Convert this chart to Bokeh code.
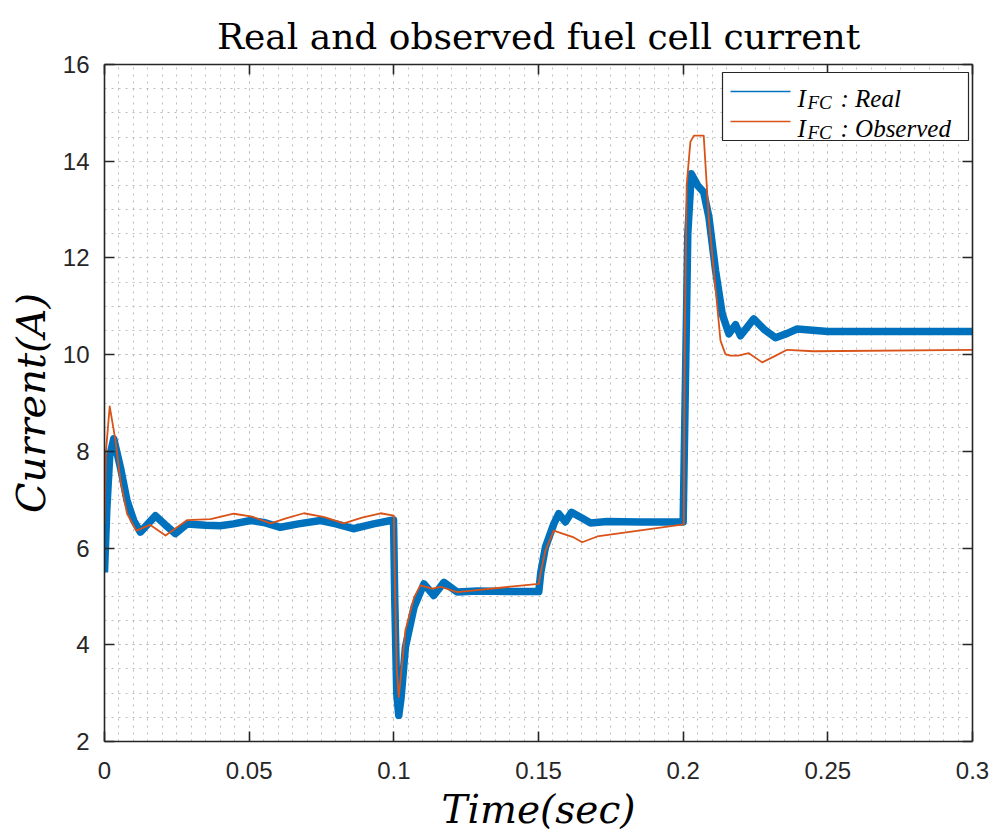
from bokeh.plotting import figure
from bokeh.models import (FixedTicker, LinearAxis, CustomJSTickFormatter, Range1d,
                          BoxAnnotation, Arrow, Label)
from bokeh.embed import file_html
from bokeh.resources import INLINE

# ---------------- data ----------------
t_real = [0, 0.0008, 0.0018, 0.0032, 0.0055, 0.0078, 0.0101, 0.0124, 0.0150, 0.0176,
          0.0210, 0.0245, 0.0286, 0.0350, 0.0400, 0.0446, 0.0505, 0.0550, 0.0608, 0.0670,
          0.0747, 0.0800, 0.0860, 0.0930, 0.0999,
          0.1003, 0.1010, 0.1017, 0.1025, 0.1040, 0.1070, 0.1104, 0.1138, 0.1173, 0.1219,
          0.1288, 0.1400, 0.1501,
          0.1508, 0.1524, 0.1553, 0.1570, 0.1593, 0.1614, 0.1650, 0.1680, 0.1737, 0.1850, 0.2000,
          0.2008, 0.2016, 0.2028, 0.2050, 0.2071, 0.2089, 0.2112, 0.2135, 0.2158, 0.2181,
          0.2198, 0.2244, 0.2280, 0.2319, 0.2360, 0.2394, 0.2500, 0.3000]
i_real = [5.5, 6.8, 7.9, 8.26, 7.67, 6.98, 6.57, 6.33, 6.5, 6.67,
          6.48, 6.3, 6.5, 6.47, 6.46, 6.5, 6.57, 6.53, 6.43, 6.5,
          6.57, 6.5, 6.40, 6.5, 6.58,
          5.0, 3.0, 2.54, 2.9, 3.95, 4.78, 5.26, 5.02, 5.29, 5.09,
          5.11, 5.1, 5.1,
          5.5, 6.02, 6.5, 6.71, 6.54, 6.74, 6.62, 6.52, 6.55, 6.54, 6.54,
          9.5, 12.5, 13.74, 13.5, 13.36, 12.84, 11.74, 10.84, 10.43, 10.62,
          10.39, 10.74, 10.52, 10.35, 10.44, 10.53, 10.48, 10.48]

t_obs = [0, 0.0005, 0.0018, 0.0038, 0.0055, 0.0078, 0.0110, 0.0157, 0.0211, 0.0286,
         0.0367, 0.0410, 0.0447, 0.0510, 0.0574, 0.0630, 0.0689, 0.0760, 0.0827, 0.0890,
         0.0954, 0.1000,
         0.1003, 0.1010, 0.1017, 0.1025, 0.1040, 0.1070, 0.1092, 0.1132, 0.1161, 0.1219, 0.1501,
         0.1508, 0.1524, 0.1553, 0.1588, 0.1622, 0.1651, 0.1703, 0.2002,
         0.2005, 0.2012, 0.2025, 0.2037, 0.2071, 0.2089, 0.2106, 0.2129, 0.2146, 0.2163,
         0.2190, 0.2227, 0.2273, 0.2320, 0.2359, 0.2451, 0.3000]
i_obs = [6.5, 8.0, 8.93, 8.22, 7.4, 6.71, 6.36, 6.48, 6.26, 6.58,
         6.6, 6.66, 6.71, 6.65, 6.51, 6.62, 6.72, 6.64, 6.51, 6.63,
         6.72, 6.67,
         5.5, 3.5, 2.92, 3.4, 4.3, 4.98, 5.23, 5.16, 5.2, 5.09, 5.26,
         5.5, 5.95, 6.36, 6.29, 6.22, 6.12, 6.24, 6.49,
         10.0, 13.5, 14.4, 14.53, 14.53, 12.77, 11.74, 10.29, 10.01, 9.98,
         9.98, 10.03, 9.84, 9.98, 10.1, 10.07, 10.1]

x_ticks = [0, 0.05, 0.1, 0.15, 0.2, 0.25, 0.3]
x_tick_labels = ["0", "0.05", "0.1", "0.15", "0.2", "0.25", "0.3"]
y_ticks = [2, 4, 6, 8, 10, 12, 14, 16]

title_text = "Real and observed fuel cell current"
x_label = "Time(sec)"
y_label = "Current(A)"
legend_names = [": Real", ": Observed"]

BLUE = "#0072BD"
ORANGE = "#D95319"
DARK = "#262626"

# ---------------- figure ----------------
W, H = 993, 836
ML, MR, MT, MB = 104, 21, 64, 95
X0, X1, Y0, Y1 = 0.0, 0.3, 2.0, 16.0

p = figure(width=W, height=H, output_backend="svg", toolbar_location=None,
           x_range=Range1d(X0, X1), y_range=Range1d(Y0, Y1),
           min_border_left=ML, min_border_right=MR, min_border_top=MT, min_border_bottom=MB,
           title=title_text)
p.outline_line_color = None
p.background_fill_color = "white"
p.border_fill_color = "white"

p.title.text_font = "DejaVu Serif"
p.title.text_font_size = "36px"
p.title.text_font_style = "normal"
p.title.text_color = "black"
p.title.align = "center"
p.title.standoff = 8

x_minor = [round(i * 0.005, 4) for i in range(61)]
y_minor = [2 + 0.5 * i for i in range(29)]
xt = FixedTicker(ticks=x_ticks, minor_ticks=x_minor)
yt = FixedTicker(ticks=y_ticks, minor_ticks=y_minor)

def style_axis(ax):
    ax.axis_line_color = DARK
    ax.axis_line_width = 1.6
    ax.major_tick_line_color = DARK
    ax.major_tick_line_width = 1.6
    ax.major_tick_in = 10
    ax.major_tick_out = 0
    ax.minor_tick_line_color = None
    ax.major_label_text_font = "Liberation Sans"
    ax.major_label_text_font_size = "24px"
    ax.major_label_text_color = DARK

xa = p.xaxis[0]
xa.ticker = xt
xa.major_label_overrides = {k: v for k, v in zip(x_ticks, x_tick_labels)}
style_axis(xa)
xa.major_label_standoff = 16
xa.axis_label = x_label
xa.axis_label_text_font = "DejaVu Serif"
xa.axis_label_text_font_style = "italic"
xa.axis_label_text_font_size = "39px"
xa.axis_label_text_color = "black"
xa.axis_label_standoff = 5

ya = p.yaxis[0]
ya.ticker = yt
style_axis(ya)
ya.major_label_standoff = 11
ya.axis_label = y_label
ya.axis_label_text_font = "DejaVu Serif"
ya.axis_label_text_font_style = "italic"
ya.axis_label_text_font_size = "40px"
ya.axis_label_text_color = "black"
ya.axis_label_standoff = 6

blank = CustomJSTickFormatter(code="return ''")
top = LinearAxis(ticker=xt, formatter=blank)
style_axis(top)
top.major_label_standoff = 0
p.add_layout(top, "above")
right = LinearAxis(ticker=yt, formatter=blank)
style_axis(right)
right.major_label_standoff = 0
p.add_layout(right, "right")

for g in (p.xgrid, p.ygrid):
    g.grid_line_color = "#bcbcbc"
    g.grid_line_dash = "2 5"
    g.grid_line_width = 1
    g.minor_grid_line_color = "#bcbcbc"
    g.minor_grid_line_dash = "2 5"
    g.minor_grid_line_width = 1

# ---------------- series ----------------
p.line(t_real, i_real, line_color=BLUE, line_width=7.5, line_join="round")
p.line(t_obs, i_obs, line_color=ORANGE, line_width=1.8, line_join="round")

# ---------------- legend (drawn manually, positions in page pixels) ----------------
FL, FT = ML, MT              # frame top-left in page pixels
FW, FH = W - ML - MR, H - MT - MB

def dx(px):
    return X0 + (px - FL) / FW * (X1 - X0)

def dy(py):
    return Y1 - (py - FT) / FH * (Y1 - Y0)

p.add_layout(BoxAnnotation(left=dx(722), right=dx(968), top=dy(72), bottom=dy(140),
                           fill_color="white", fill_alpha=1.0,
                           line_color=DARK, line_width=1.2, line_alpha=1.0))
rows = [(91, BLUE, legend_names[0]), (121, ORANGE, legend_names[1])]
for py, col, name in rows:
    p.add_layout(Arrow(end=None, x_start=dx(730), x_end=dx(790), y_start=dy(py), y_end=dy(py),
                       line_color=col, line_width=1.6))
    base = py + 7
    p.add_layout(Label(x=dx(797), y=dy(base), text="I", text_font="Liberation Serif",
                       text_font_style="italic", text_font_size="25px", text_color="black",
                       text_baseline="alphabetic", text_align="left"))
    p.add_layout(Label(x=dx(807), y=dy(base + 4), text="FC", text_font="Liberation Serif",
                       text_font_style="italic", text_font_size="19px", text_color="black",
                       text_baseline="alphabetic", text_align="left"))
    p.add_layout(Label(x=dx(840), y=dy(base), text=name, text_font="Liberation Serif",
                       text_font_style="italic", text_font_size="25px", text_color="black",
                       text_baseline="alphabetic", text_align="left"))

open("out.html", "w").write(file_html(p, INLINE))
